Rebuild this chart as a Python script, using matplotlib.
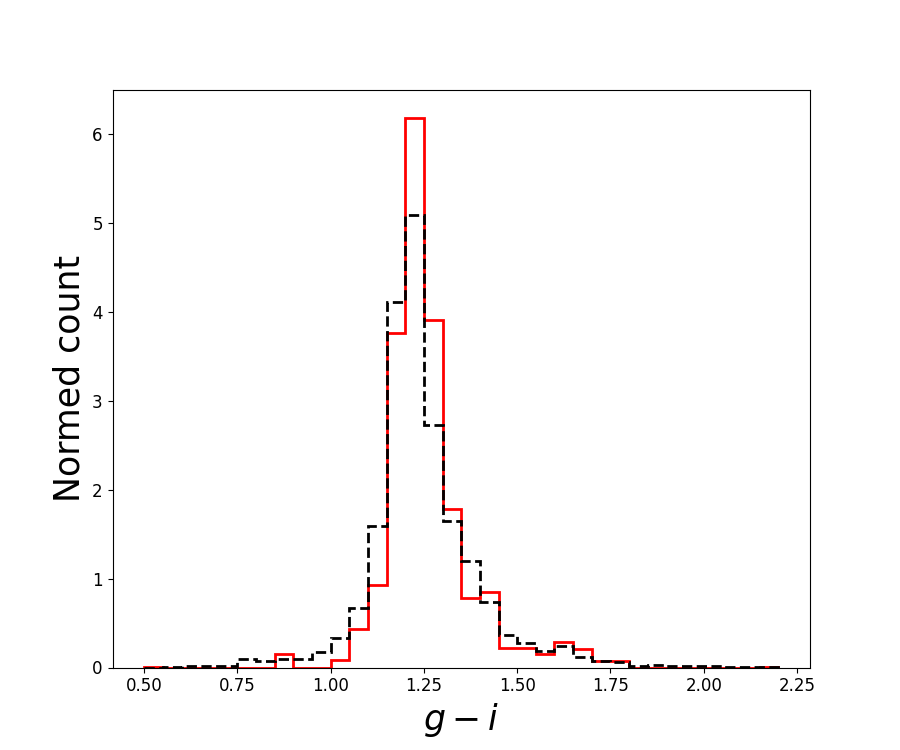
import numpy as np
import matplotlib.pyplot as plt

# bin edges for g-i colour, width 0.05
edges = np.round(np.arange(0.50, 2.2001, 0.05), 2)

# normed counts, red sample (solid)
red_counts = [0.01, 0.00, 0.00, 0.00, 0.00, 0.00, 0.00, 0.15, 0.00, 0.00,
              0.08, 0.43, 0.93, 3.76, 6.18, 3.91, 1.78, 0.78, 0.85, 0.22,
              0.22, 0.15, 0.29, 0.21, 0.07, 0.07, 0.00, 0.00, 0.00, 0.00,
              0.00, 0.00, 0.00, 0.01]

# normed counts, comparison sample (dashed)
black_counts = [0.00, 0.01, 0.02, 0.02, 0.02, 0.09, 0.07, 0.09, 0.10, 0.17,
                0.33, 0.67, 1.59, 4.11, 5.09, 2.73, 1.65, 1.20, 0.74, 0.37,
                0.27, 0.19, 0.24, 0.12, 0.07, 0.06, 0.02, 0.03, 0.02, 0.02,
                0.02, 0.01, 0.01, 0.01]

fig, ax = plt.subplots(figsize=(9, 7.5), dpi=100)

ax.stairs(red_counts, edges, color='red', linewidth=2, baseline=0)
ax.stairs(black_counts, edges, color='black', linestyle='--', linewidth=2, baseline=0)

ax.set_xlim(0.415, 2.285)
ax.set_ylim(0, 6.49)
ax.set_xlabel('$g-i$', fontsize=25)
ax.set_ylabel('Normed count', fontsize=25)
ax.tick_params(labelsize=12)

plt.savefig('out.png')
